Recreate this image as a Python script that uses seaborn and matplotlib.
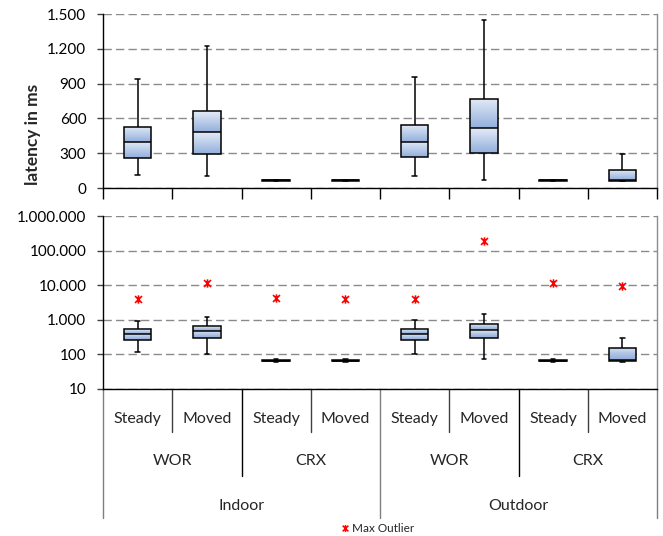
import numpy as np
import pandas as pd
import matplotlib
matplotlib.use("Agg")
import matplotlib.pyplot as plt
from matplotlib.lines import Line2D
from matplotlib.path import Path
from matplotlib.colors import LinearSegmentedColormap
from matplotlib.ticker import FuncFormatter, NullLocator
import seaborn as sns

environments = ["Indoor", "Outdoor"]
browsers = ["WOR", "CRX"]
states = ["Steady", "Moved"]

# five-number summaries, one entry per box:
# Indoor WOR Steady/Moved, Indoor CRX Steady/Moved, Outdoor WOR ..., Outdoor CRX ...
whisker_low = [116, 104, 60, 60, 101, 73, 60, 60]
q1 = [260, 297, 63, 63, 263, 306, 63, 64]
median = [398, 484, 65, 65, 393, 514, 65, 67]
q3 = [528, 663, 68, 68, 540, 765, 68, 158]
whisker_high = [940, 1220, 72, 72, 958, 1445, 72, 295]
max_outlier = [3900, 11300, 4250, 4050, 4050, 195000, 11500, 9400]

lin_ticks = [0, 300, 600, 900, 1200, 1500]
log_ticks = [10, 100, 1000, 10000, 100000, 1000000]

cats = [f"{e} {b} {s}" for e in environments for b in browsers for s in states]

rows = []
for i, c in enumerate(cats):
    for v in (whisker_low[i], q1[i], median[i], q3[i], whisker_high[i]):
        rows.append({"box": c, "latency": v})
df = pd.DataFrame(rows)

sns.set_theme(style="ticks")
plt.rcParams["font.family"] = ["Lato", "DejaVu Sans"]

W, H = 663, 536
fig = plt.figure(figsize=(W / 100, H / 100), dpi=100)
ax_lin = fig.add_axes([103 / W, 1 - 188 / H, 554 / W, 174 / H])
ax_log = fig.add_axes([103 / W, 1 - 389 / H, 554 / W, 173 / H])

box_kw = dict(x="box", y="latency", order=cats, whis=(0, 100), width=0.4,
              color="#b8cbe9", linecolor="black", linewidth=1.1,
              showfliers=False, capwidths=0.065)
sns.boxplot(data=df, ax=ax_lin, **box_kw)
sns.boxplot(data=df, ax=ax_log, log_scale=True, **box_kw)

# gradient fill, each half of the box shaded light -> dark from top
grad = np.linspace(0, 1, 64).reshape(-1, 1)
cmap = LinearSegmentedColormap.from_list("boxfill", ["#e3ebf7", "#93afdc"])
for ax in (ax_lin, ax_log):
    for i, patch in enumerate(ax.patches):
        for lo, hi in ((q1[i], median[i]), (median[i], q3[i])):
            im = ax.imshow(grad, cmap=cmap, aspect="auto", origin="upper",
                           extent=(i - 0.2, i + 0.2, lo, hi), zorder=2.1,
                           interpolation="bilinear")
            im.set_clip_path(patch)
        patch.set_facecolor("none")
        patch.set_zorder(2.2)
    for ln in ax.lines:
        ln.set_zorder(2.3)

# excel-like star marker: an x with a vertical bar
star = Path([(-1, -1), (1, 1), (-1, 1), (1, -1), (0, -1.2), (0, 1.2)],
            [Path.MOVETO, Path.LINETO, Path.MOVETO, Path.LINETO, Path.MOVETO, Path.LINETO])

ax_log.plot(np.arange(len(cats)), max_outlier, ls="none", marker=star,
            color="red", mec="red", ms=6, mew=1.2, zorder=5)

fmt = FuncFormatter(lambda v, p: f"{int(round(v)):,}".replace(",", "."))
for ax, lim, ticks in ((ax_lin, (0, 1500), lin_ticks), (ax_log, (10, 1e6), log_ticks)):
    ax.set_xlim(-0.5, len(cats) - 0.5)
    ax.set_ylim(*lim)
    ax.set_yticks(ticks)
    ax.yaxis.set_minor_locator(NullLocator())
    ax.yaxis.set_major_formatter(fmt)
    ax.set_xlabel("")
    ax.set_ylabel("")
    ax.set_axisbelow(True)
    ax.grid(axis="y", color="#8a8a8a", linestyle=(0, (6, 3)), linewidth=1)
    ax.spines["top"].set_visible(False)
    ax.spines["right"].set_visible(True)
    ax.spines["right"].set_color("#8c8c8c")
    ax.spines["left"].set_color("black")
    ax.spines["bottom"].set_color("black")
    for s in ax.spines.values():
        s.set_linewidth(1)
    ax.tick_params(axis="y", length=4, width=1, color="#404040", pad=8,
                   labelsize=11, labelcolor="black")

ax_lin.set_xticks(np.arange(-0.5, len(cats), 1), labels=[""] * (len(cats) + 1))
ax_lin.tick_params(axis="x", length=8, width=1, color="black")
ax_log.set_xticks([])

ax_lin.set_ylabel("latency in ms", fontsize=12.5, fontweight="bold")
ax_lin.yaxis.set_label_coords(-0.112, 0.31)

# hierarchical category axis below the log panel
trans = ax_log.get_xaxis_transform()
depth = {1: -0.249, 2: -0.503, 3: -0.746}
line_col = {1: "#404040", 2: "black", 3: "#7f7f7f"}
for k in range(len(cats) + 1):
    if k % 4 == 0:
        lvl = 3
    elif k % 2 == 0:
        lvl = 2
    else:
        lvl = 1
    ax_log.plot([k - 0.5, k - 0.5], [0, depth[lvl]], transform=trans,
                color=line_col[lvl], lw=1, clip_on=False)

for i, c in enumerate(cats):
    ax_log.text(i, -0.173, c.split()[-1], transform=trans, ha="center",
                va="center", fontsize=11.5)
for j in range(len(environments) * len(browsers)):
    ax_log.text(2 * j + 0.5, -0.416, browsers[j % 2], transform=trans,
                ha="center", va="center", fontsize=11.5)
for j, env in enumerate(environments):
    ax_log.text(4 * j + 1.5, -0.676, env, transform=trans, ha="center",
                va="center", fontsize=11.5)

handle = Line2D([], [], ls="none", marker=star, color="red", mec="red", ms=5, mew=1.1)
fig.legend([handle], ["Max Outlier"], loc="center",
           bbox_to_anchor=(378 / W, 1 - 529 / H), frameon=False, fontsize=8.5,
           handlelength=0.6, handletextpad=0.3, borderpad=0)

fig.savefig("out.png", dpi=100)
